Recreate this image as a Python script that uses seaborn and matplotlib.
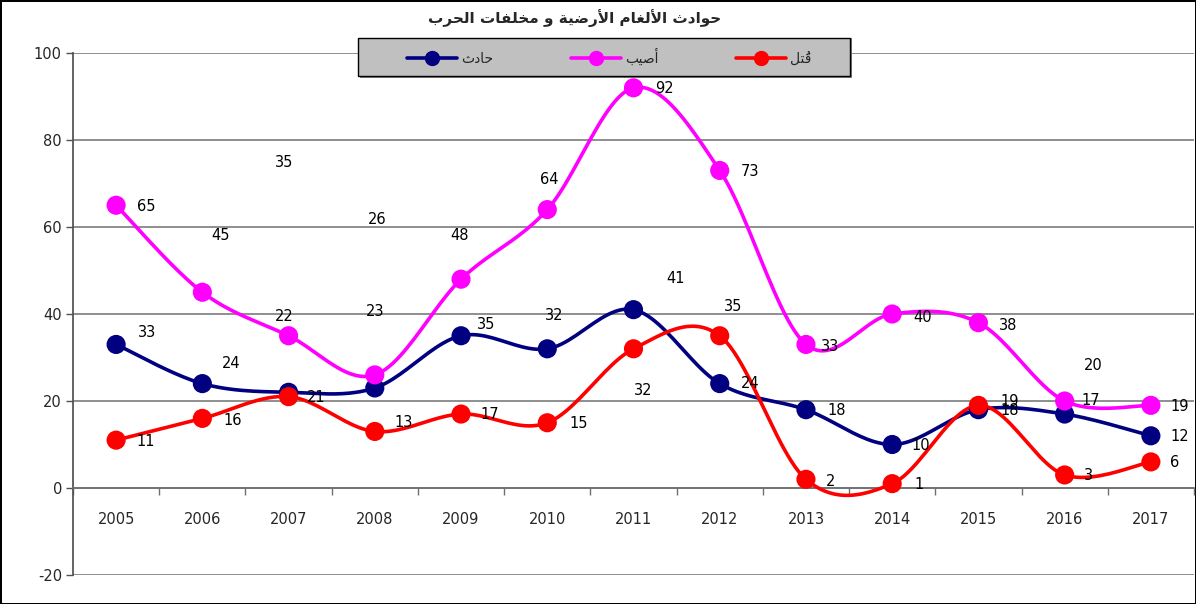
import numpy as np
import pandas as pd
import matplotlib.pyplot as plt
import seaborn as sns
from matplotlib.lines import Line2D
from matplotlib.patches import Rectangle

# data
years = ['2005', '2006', '2007', '2008', '2009', '2010', '2011',
         '2012', '2013', '2014', '2015', '2016', '2017']
accidents = [33, 24, 22, 23, 35, 32, 41, 24, 18, 10, 18, 17, 12]
injured = [65, 45, 35, 26, 48, 64, 92, 73, 33, 40, 38, 20, 19]
killed = [11, 16, 21, 13, 17, 15, 32, 35, 2, 1, 19, 3, 6]
names = ['حادث', 'أصيب', 'قُتل']
title = 'حوادث الألغام الأرضية و مخلفات الحرب'

colors = ['#000080', '#FF00FF', '#FF0000']

# label offsets in pixels (x right, y up) - the labels in the original are moved around
offsets = [
    [(31, 12), (29, 20), (-4, 76), (0, 76), (25, 11), (7, 33), (42, 31), (30, 0), (31, -1), (29, -1), (31, -1), (26, 14), (29, -1)],
    [(30, -1), (18, 57), (-4, 173), (2, 155), (-1, 44), (2, 30), (31, -1), (30, -1), (24, -2), (30, -3), (30, -3), (29, 35), (29, -1)],
    [(30, -1), (30, -2), (28, -1), (29, 9), (29, 0), (31, -1), (10, -42), (13, 29), (25, -2), (27, -1), (31, 4), (24, -1), (24, -1)],
]

# --- tiny arabic shaper (matplotlib does not shape arabic) ---
FORMS = {
    'ا': (0xFE8D, 0xFE8E, None, None), 'أ': (0xFE83, 0xFE84, None, None),
    'ب': (0xFE8F, 0xFE90, 0xFE91, 0xFE92), 'ة': (0xFE93, 0xFE94, None, None),
    'ت': (0xFE95, 0xFE96, 0xFE97, 0xFE98), 'ث': (0xFE99, 0xFE9A, 0xFE9B, 0xFE9C),
    'ح': (0xFEA1, 0xFEA2, 0xFEA3, 0xFEA4), 'خ': (0xFEA5, 0xFEA6, 0xFEA7, 0xFEA8),
    'د': (0xFEA9, 0xFEAA, None, None), 'ر': (0xFEAD, 0xFEAE, None, None),
    'ص': (0xFEB9, 0xFEBA, 0xFEBB, 0xFEBC), 'ض': (0xFEBD, 0xFEBE, 0xFEBF, 0xFEC0),
    'غ': (0xFECD, 0xFECE, 0xFECF, 0xFED0), 'ف': (0xFED1, 0xFED2, 0xFED3, 0xFED4),
    'ق': (0xFED5, 0xFED6, 0xFED7, 0xFED8), 'ل': (0xFEDD, 0xFEDE, 0xFEDF, 0xFEE0),
    'م': (0xFEE1, 0xFEE2, 0xFEE3, 0xFEE4), 'و': (0xFEED, 0xFEEE, None, None),
    'ي': (0xFEF1, 0xFEF2, 0xFEF3, 0xFEF4),
}
LAM_ALEF = {'ا': (0xFEFB, 0xFEFC), 'أ': (0xFEF7, 0xFEF8)}
MARKS = set('\u064B\u064C\u064D\u064E\u064F\u0650\u0651\u0652')


def shape(text):
    letters = [c for c in text if c not in MARKS]
    # attach marks to their base letter
    marks_after = {}
    k = -1
    for c in text:
        if c in MARKS:
            marks_after[k] = marks_after.get(k, '') + c
        else:
            k += 1
    clusters = []
    i = 0
    while i < len(letters):
        c = letters[i]
        prev = letters[i - 1] if i > 0 else None
        nxt = letters[i + 1] if i + 1 < len(letters) else None
        prev_joins = prev in FORMS and FORMS[prev][2] is not None
        if c not in FORMS:
            clusters.append(c + marks_after.get(i, ''))
            i += 1
            continue
        if c == 'ل' and nxt in LAM_ALEF:
            g = LAM_ALEF[nxt][1 if prev_joins else 0]
            clusters.append(marks_after.get(i, '') + chr(g))
            i += 2
            continue
        f = FORMS[c]
        join_next = f[2] is not None and nxt in FORMS
        if prev_joins and join_next:
            g = f[3]
        elif prev_joins:
            g = f[1]
        elif join_next:
            g = f[2]
        else:
            g = f[0]
        # mark goes in front of its letter so it sits over it
        clusters.append(marks_after.get(i, '') + chr(g))
        i += 1
    return ''.join(reversed(clusters))


def smooth(vals, n=24):
    # excel-like smoothed line (bezier through the points)
    pts = np.column_stack([np.arange(len(vals)), np.asarray(vals, float)])
    P = np.vstack([pts[0], pts, pts[-1]])
    t = np.linspace(0, 1, n, endpoint=False)[:, None]
    segs = []
    for i in range(1, len(P) - 2):
        p0, p1, p2, p3 = P[i - 1], P[i], P[i + 1], P[i + 2]
        b1 = p1 + (p2 - p0) / 6
        b2 = p2 - (p3 - p1) / 6
        segs.append((1 - t) ** 3 * p1 + 3 * (1 - t) ** 2 * t * b1 + 3 * (1 - t) * t ** 2 * b2 + t ** 3 * p2)
    segs.append(pts[-1:])
    return np.vstack(segs)


sns.set_theme(style='white')
plt.rcParams['font.family'] = ['DejaVu Sans']
plt.rcParams['axes.unicode_minus'] = False

fig = plt.figure(figsize=(11.96, 6.04), dpi=100)
fig.patch.set_edgecolor('black')
fig.patch.set_linewidth(2)
ax = fig.add_axes([73 / 1196, 1 - 575 / 604, (1194 - 73) / 1196, (575 - 53) / 604])

series = [accidents, injured, killed]
for vals, name, col, offs in zip(series, names, colors, offsets):
    sm = smooth(vals)
    df_line = pd.DataFrame({'x': sm[:, 0], 'y': sm[:, 1]})
    sns.lineplot(data=df_line, x='x', y='y', sort=False, color=col, lw=2.6, ax=ax, zorder=3)
    df_pts = pd.DataFrame({'x': np.arange(len(vals)), 'y': vals})
    sns.scatterplot(data=df_pts, x='x', y='y', color=col, s=190, edgecolor='none', ax=ax, zorder=4)
    for xi, v, (dx, dy) in zip(range(len(vals)), vals, offs):
        ax.annotate(str(v), (xi, v), xytext=(dx, dy), textcoords='offset pixels',
                    ha='center', va='center', fontsize=10.5, color='black', zorder=6)

ax.set_xlim(-0.5, len(years) - 0.5)
ax.set_ylim(-20, 100)
ax.set_yticks(range(-20, 101, 20))
ax.set_xticks(range(len(years)))
ax.set_xticklabels(years)
ax.set_xticks(np.arange(-0.5, len(years), 1), minor=True)
ax.set_xlabel('')
ax.set_ylabel('')
ax.grid(axis='y', color='#707070', lw=1.1)
ax.set_axisbelow(True)
for s in ['top', 'right']:
    ax.spines[s].set_visible(False)
ax.spines['left'].set_color('#505050')
ax.spines['bottom'].set_position(('data', 0))
ax.spines['bottom'].set_color('#707070')
ax.tick_params(axis='y', which='major', left=True, length=5, width=1, color='#505050',
               labelsize=10.5, pad=3)
ax.tick_params(axis='x', which='major', bottom=False, length=0, labelsize=10.5, pad=17)
ax.tick_params(axis='x', which='minor', bottom=True, length=5, width=1, color='#707070')

fig.text(575 / 1196, 1 - 18 / 604, shape(title), ha='center', va='center',
         fontsize=11, fontweight='bold')

# legend box
fig.patches.append(Rectangle((360 / 1196, 1 - 78 / 604), 492 / 1196, 40 / 604,
                             transform=fig.transFigure, facecolor='#7f7f7f', edgecolor='none', zorder=8))
fig.patches.append(Rectangle((358 / 1196, 1 - 76 / 604), 492 / 1196, 38 / 604,
                             transform=fig.transFigure, facecolor='#C0C0C0', edgecolor='black',
                             lw=1, zorder=9))
handles = [Line2D([], [], color=c, lw=2.6, marker='o', ms=10) for c in colors]
leg = fig.legend(handles, [shape(n) for n in names], loc='center', ncol=3,
                 bbox_to_anchor=(609 / 1196, 1 - 57 / 604), frameon=False, fontsize=10,
                 handlelength=3.6, handletextpad=0.3, columnspacing=5.6)
leg.set_zorder(10)

fig.savefig('out.png', dpi=100)
